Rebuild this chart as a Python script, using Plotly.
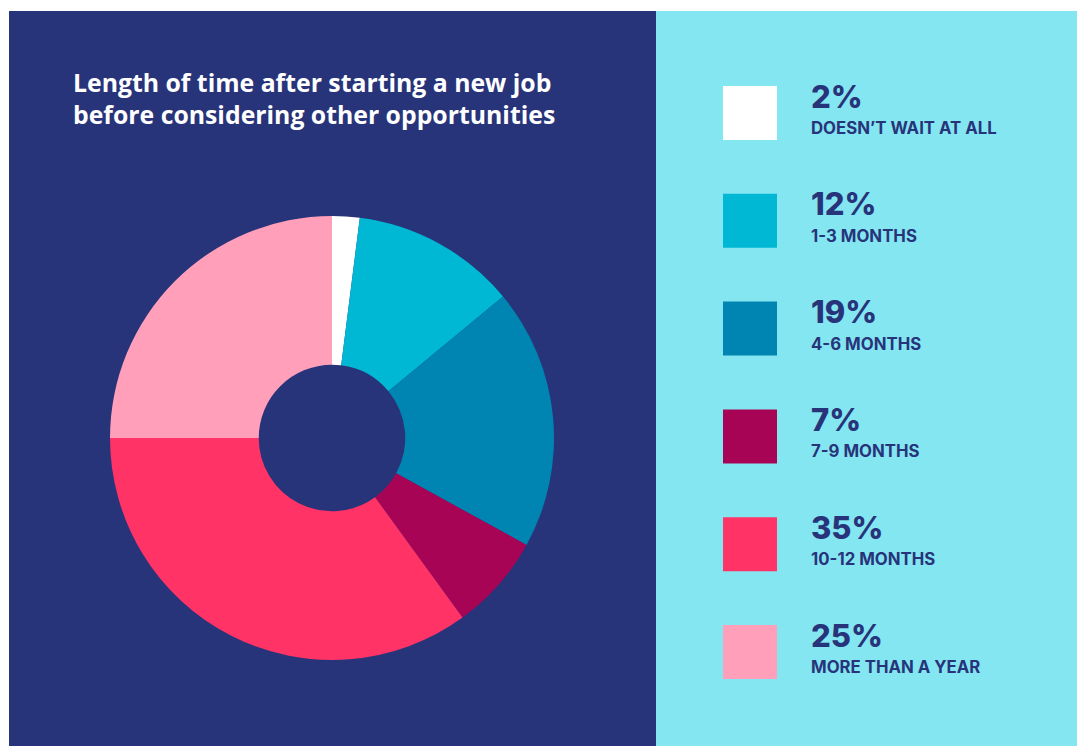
import plotly.graph_objects as go

# Survey answers, in the order they are drawn clockwise from 12 o'clock
categories = ["DOESN\u2019T WAIT AT ALL", "1-3 MONTHS", "4-6 MONTHS",
              "7-9 MONTHS", "10-12 MONTHS", "MORE THAN A YEAR"]
shares = [2, 12, 19, 7, 35, 25]
slice_colors = ["#FFFFFF", "#00B8D4", "#0085B2", "#A80456", "#FF3366", "#FF9FBA"]

title_lines = ["Length of time after starting a new job",
               "before considering other opportunities"]

W, H = 1077, 746
NAVY = "#27347A"
AQUA = "#84E6F1"
FONT = "Inter"
TITLE_FONT = "Open Sans"

# pie geometry in pixels
cx, cy, r = 332, 438, 222

fig = go.Figure()
fig.add_trace(go.Pie(
    values=shares,
    labels=categories,
    marker=dict(colors=slice_colors, line=dict(width=0)),
    sort=False,
    direction="clockwise",
    rotation=0,
    hole=0.33,
    textinfo="none",
    hoverinfo="label+percent",
    showlegend=False,
    domain=dict(x=[(cx - r) / W, (cx + r) / W],
                y=[1 - (cy + r) / H, 1 - (cy - r) / H]),
))

shapes = [
    dict(type="rect", xref="x", yref="y", x0=9, x1=656, y0=11, y1=H,
         fillcolor=NAVY, line=dict(width=0), layer="below"),
    dict(type="rect", xref="x", yref="y", x0=656, x1=W, y0=11, y1=H,
         fillcolor=AQUA, line=dict(width=0), layer="below"),
]
annotations = []

for k, line in enumerate(title_lines):
    annotations.append(dict(
        x=71, y=82 + 32 * k, xref="x", yref="y", text=line, showarrow=False,
        xanchor="left", yanchor="middle",
        font=dict(family=TITLE_FONT, size=24.8, color="#FFFFFF", weight=700)))

# legend column
step = 107.8
for i, (cat, v, col) in enumerate(zip(categories, shares, slice_colors)):
    top = 86 + step * i
    shapes.append(dict(type="rect", xref="x", yref="y", x0=723, x1=777,
                       y0=top, y1=top + 54, fillcolor=col, line=dict(width=0)))
    annotations.append(dict(
        x=809, y=top + 10, xref="x", yref="y", text=f"{v}%", showarrow=False,
        xanchor="left", yanchor="middle",
        font=dict(family=FONT, size=31, color=NAVY, weight=800)))
    annotations.append(dict(
        x=809, y=top + 42, xref="x", yref="y", text=cat, showarrow=False,
        xanchor="left", yanchor="middle",
        font=dict(family=FONT, size=16.8, color=NAVY, weight=700)))

fig.update_layout(
    width=W, height=H,
    margin=dict(l=0, r=0, t=0, b=0),
    paper_bgcolor="#FFFFFF",
    plot_bgcolor="rgba(0,0,0,0)",
    xaxis=dict(range=[0, W], visible=False, fixedrange=True, domain=[0, 1]),
    yaxis=dict(range=[H, 0], visible=False, fixedrange=True, domain=[0, 1]),
    shapes=shapes,
    annotations=annotations,
)

fig.write_html("out.html", config={"displayModeBar": False})
